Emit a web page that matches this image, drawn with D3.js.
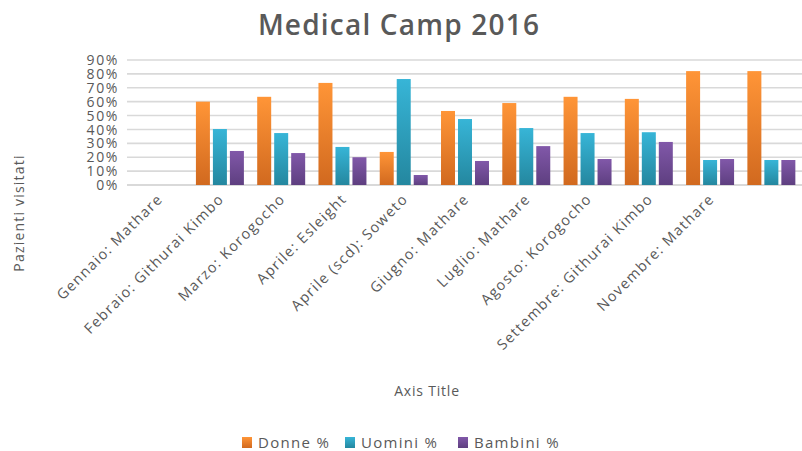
<!DOCTYPE html>
<html><head><meta charset="utf-8">
<script src="https://cdn.jsdelivr.net/npm/d3@7"></script>
<style>
html,body{margin:0;padding:0;background:#fff;}
svg{display:block;font-family:"Open Sans",sans-serif;}
</style></head>
<body>
<svg id="c" width="802" height="451"></svg>
<script>
const categories = ["Gennaio: Mathare","Febraio: Githurai Kimbo","Marzo: Korogocho","Aprile: Esleight","Aprile (scd): Soweto","Giugno: Mathare","Luglio: Mathare","Agosto: Korogocho","Settembre: Githurai Kimbo","Novembre: Mathare",""];
const seriesNames = ["Donne %","Uomini %","Bambini %"];
const donne   = [0, 0.60, 0.635, 0.735, 0.238, 0.533, 0.59, 0.635, 0.62, 0.82, 0.82];
const uomini  = [0, 0.403, 0.374, 0.274, 0.763, 0.475, 0.41, 0.374, 0.38, 0.18, 0.18];
const bambini = [0, 0.245, 0.23, 0.20, 0.072, 0.173, 0.28, 0.187, 0.31, 0.187, 0.18];
const yTicks = [0,0.1,0.2,0.3,0.4,0.5,0.6,0.7,0.8,0.9];
const values = [donne, uomini, bambini];
const colors = [["#FF9537","#D1691F"],["#37B5D7","#24879F"],["#8158A9","#5E3F80"]];

(function(){
const svg = d3.select("#c");
const pL = 128, pR = 802, pT = 60, pB = 185;
const x = d3.scaleBand().domain(d3.range(categories.length)).range([pL, pR]).paddingInner(0).paddingOuter(0);
const bw = x.bandwidth();
const xs = d3.scaleBand().domain(d3.range(3)).range([bw*0.1085, bw*(1-0.1085)]).paddingInner(3/17).paddingOuter(0);
const y = d3.scaleLinear().domain([0,0.9]).range([pB, pT]);

const defs = svg.append("defs");
colors.forEach((c,i)=>{
  const g = defs.append("linearGradient").attr("id","g"+i).attr("x1",0).attr("y1",0).attr("x2",0).attr("y2",1);
  g.append("stop").attr("offset","0%").attr("stop-color",c[0]);
  g.append("stop").attr("offset","100%").attr("stop-color",c[1]);
});

svg.append("text").attr("x",399).attr("y",35).attr("text-anchor","middle")
  .attr("font-size",28).attr("font-weight",600).attr("fill","#595959").attr("letter-spacing",1.2)
  .text("Medical Camp 2016");

const yAxis = d3.axisLeft(y).tickValues(yTicks).tickFormat(d3.format(".0%")).tickSize(0).tickPadding(8);
const ga = svg.append("g").attr("transform",`translate(${pL},0)`).call(yAxis);
ga.select(".domain").remove();
ga.selectAll("text").attr("font-size",14).attr("fill","#595959").attr("font-family","Open Sans, sans-serif")
  .attr("letter-spacing",1.6).attr("dx",-1).attr("dy","0.33em");

svg.append("g").selectAll("line").data(yTicks).join("line")
  .attr("x1",pL-1).attr("x2",pR).attr("y1",d=>y(d)).attr("y2",d=>y(d))
  .attr("stroke","#D9D9D9").attr("stroke-width",d=>d===0?2.2:1.6);

seriesNames.forEach((s,si)=>{
  svg.append("g").selectAll("rect").data(values[si]).join("rect")
    .attr("x",(d,i)=>x(i)+xs(si)).attr("width",xs.bandwidth())
    .attr("y",d=>y(d)).attr("height",d=>y(0)-y(d))
    .attr("fill",`url(#g${si})`);
});

const xAxis = d3.axisBottom(x).tickFormat(i=>categories[i]).tickSize(0).tickPadding(0);
const gx = svg.append("g").attr("transform",`translate(0,${pB})`).call(xAxis);
gx.select(".domain").remove();
gx.selectAll(".tick text").attr("font-size",14.5).attr("fill","#595959").attr("letter-spacing",1.3)
  .attr("font-family","Open Sans, sans-serif")
  .attr("text-anchor","end").attr("dy",0).attr("y",0)
  .attr("transform","translate(5,15) rotate(-45)");

svg.append("text").attr("x",427).attr("y",396).attr("text-anchor","middle")
  .attr("font-size",14).attr("fill","#595959").attr("letter-spacing",0.8).text("Axis Title");
svg.append("text").attr("transform","translate(24,213) rotate(-90)").attr("text-anchor","middle")
  .attr("font-size",14).attr("fill","#595959").attr("letter-spacing",1.2).text("Pazienti visitati");

const legX = [242, 345, 458];
const lg = svg.append("g");
seriesNames.forEach((s,i)=>{
  lg.append("rect").attr("x",legX[i]).attr("y",437).attr("width",10).attr("height",11).attr("fill",`url(#g${i})`);
  lg.append("text").attr("x",legX[i]+16).attr("y",448).attr("font-size",15).attr("fill","#595959").attr("letter-spacing",1.3).text(s);
});
})();
</script>
</body></html>
